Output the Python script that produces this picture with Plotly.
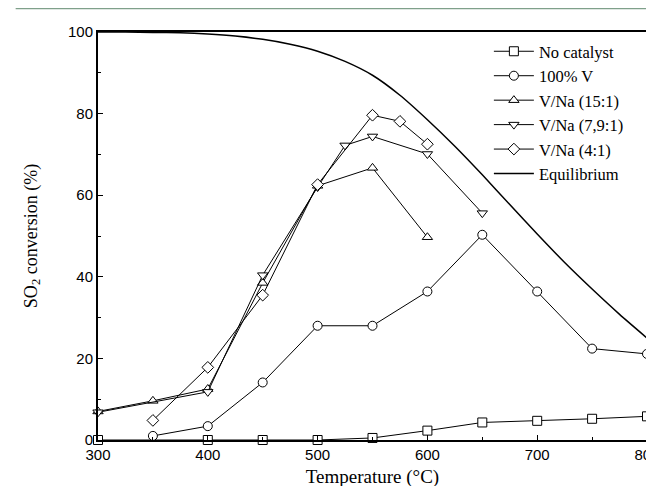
import plotly.graph_objects as go

# Data
nocat_T = [300, 400, 450, 500, 550, 600, 650, 700, 750, 800]
nocat_y = [0, 0, 0, 0, 0.5, 2.3, 4.3, 4.7, 5.2, 5.8]

v100_T = [350, 400, 450, 500, 550, 600, 650, 700, 750, 800]
v100_y = [1.0, 3.4, 14.1, 28.0, 28.0, 36.4, 50.3, 36.4, 22.4, 21.1]

vna15_T = [300, 350, 400, 450, 500, 550, 600]
vna15_y = [7.0, 9.6, 12.5, 38.5, 62.3, 66.7, 49.7]

vna79_T = [300, 400, 450, 500, 525, 550, 600, 650]
vna79_y = [6.8, 11.8, 40.4, 62.0, 72.2, 74.4, 70.1, 55.6]

vna4_T = [350, 400, 450, 500, 550, 575, 600]
vna4_y = [4.8, 17.8, 35.5, 62.6, 79.6, 78.1, 72.5]

eq_T = [300, 325, 350, 375, 400, 425, 450, 475, 500, 525, 550, 575, 600,
        625, 650, 675, 700, 725, 750, 775, 800]
eq_y = [100, 100, 99.9, 99.8, 99.5, 99.0, 98.2, 97.0, 95.3, 92.8, 89.4, 84.5,
        78.5, 72.0, 65.0, 57.7, 50.5, 43.5, 37.0, 30.8, 25.0]

series = [
    ("No catalyst", nocat_T, nocat_y, "square"),
    ("100% V", v100_T, v100_y, "circle"),
    ("V/Na (15:1)", vna15_T, vna15_y, "triangle-up"),
    ("V/Na (7,9:1)", vna79_T, vna79_y, "triangle-down"),
    ("V/Na (4:1)", vna4_T, vna4_y, "diamond"),
]

fig = go.Figure()
for name, xs, ys, sym in series:
    fig.add_trace(go.Scatter(
        x=xs, y=ys, name=name, mode="lines+markers",
        line=dict(color="black", width=1),
        marker=dict(symbol=sym, size=9, color="white",
                    line=dict(color="black", width=1)),
        cliponaxis=False,
    ))

fig.add_trace(go.Scatter(
    x=eq_T, y=eq_y, name="Equilibrium", mode="lines",
    line=dict(color="black", width=1.5, shape="spline", smoothing=0.6),
))

axis_common = dict(
    showgrid=False, zeroline=False, showline=True, mirror=True,
    linecolor="black", linewidth=2, ticks="inside", ticklen=5,
    tickcolor="black", tickwidth=1, automargin=False,
    tickfont=dict(family="Liberation Sans, Arial", size=15, color="black"),
)

fig.update_xaxes(
    range=[300, 800], dtick=100, tick0=300,
    minor=dict(ticks="inside", dtick=50, ticklen=3, tickcolor="black"),
    title=dict(text="Temperature (°C)",
               font=dict(family="Liberation Serif, Times New Roman", size=19, color="black"),
               standoff=8),
    **axis_common,
)
fig.update_yaxes(
    range=[0, 100], dtick=20,
    minor=dict(ticks="inside", dtick=10, ticklen=3, tickcolor="black"),
    title=dict(text="SO<sub>2</sub> conversion (%)",
               font=dict(family="Liberation Serif, Times New Roman", size=18, color="black"),
               standoff=26),
    **axis_common,
)

fig.update_layout(
    width=654, height=486,
    margin=dict(l=90, r=15, t=24, b=54),
    paper_bgcolor="white", plot_bgcolor="white",
    showlegend=True,
    legend=dict(x=0.712, y=0.995, xanchor="left", yanchor="top",
                bgcolor="rgba(0,0,0,0)", borderwidth=0,
                font=dict(family="Liberation Serif, Times New Roman", size=16.5, color="black"),
                tracegroupgap=0, itemwidth=40),
    shapes=[dict(type="line", xref="paper", yref="paper", x0=-0.15, x1=1.03,
                 y0=1.058, y1=1.058, line=dict(color="#7fa08a", width=2))],
)

fig.write_html("out.html")
